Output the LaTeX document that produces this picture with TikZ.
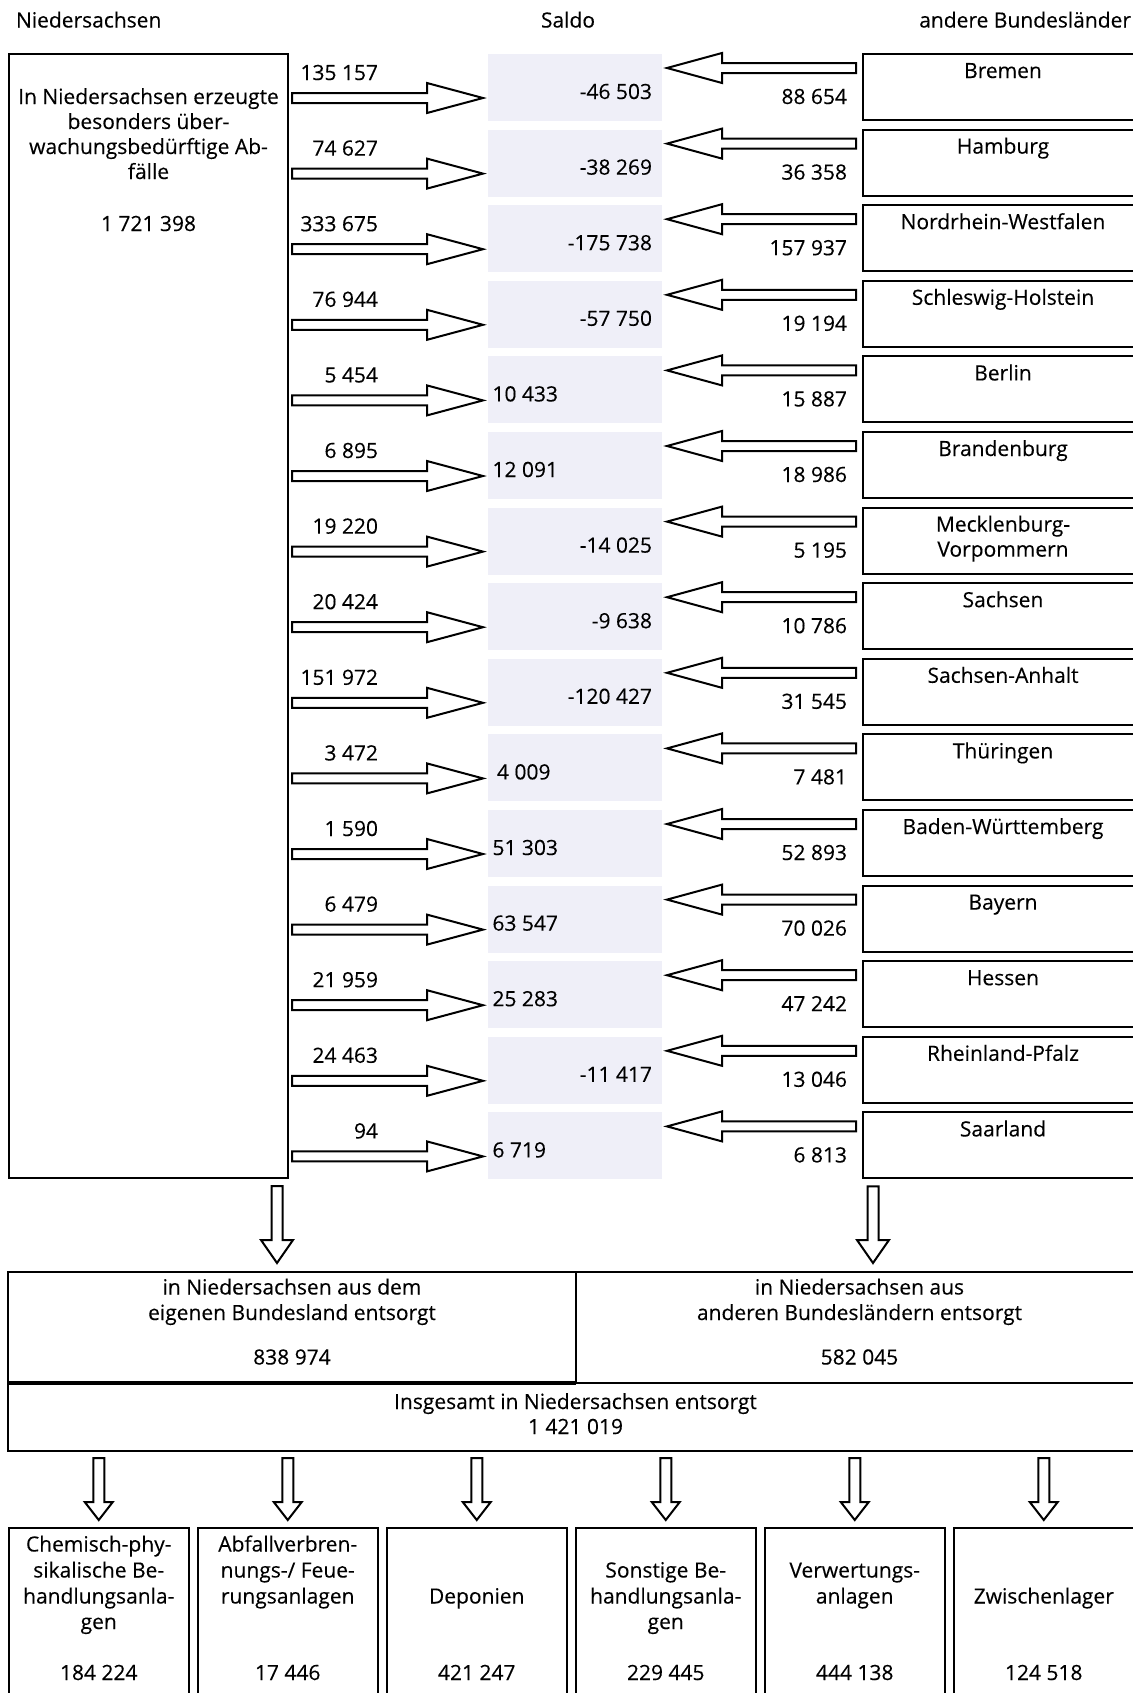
\documentclass[tikz,border=0pt]{standalone}
\usepackage{fontspec}
\setmainfont{Open Sans}[BoldFont={Open Sans}, BoldFeatures={FakeBold=0.25}]
\usetikzlibrary{calc}
\definecolor{sal}{RGB}{239,239,248}
\newcommand\fsz{\fontsize{10.5pt}{12.75pt}\selectfont\bfseries}
% block arrow from #1 (tail centre) to #2 (tip); #3 shaft half width, #4 head half width, #5 head length
\newcommand\blkarrow[5]{%
  \coordinate (hb) at ($(#2)!#5!(#1)$);
  \draw[blk] ($(#1)!#3!90:(#2)$) -- ($(hb)!#3!-90:(#1)$) -- ($(hb)!#4!-90:(#1)$) -- (#2)
     -- ($(hb)!#4!90:(#1)$) -- ($(hb)!#3!90:(#1)$) -- ($(#1)!#3!-90:(#2)$) -- cycle;}
\begin{document}
\begin{tikzpicture}[x=0.5pt,y=-0.5pt,
  every node/.style={font=\fsz, inner sep=0pt, outer sep=0pt},
  blk/.style={draw, fill=white, line width=1pt, line join=miter},
  lbox/.style={draw, line width=1pt, minimum width=139.5pt, minimum height=562pt},
  sbox/.style={fill=sal, minimum width=87pt, minimum height=33.5pt},
  rbox/.style={draw, line width=1pt, minimum width=140pt, minimum height=33pt},
  wbox/.style={draw, line width=1pt, minimum height=55.5pt},
  pbox/.style={draw, line width=1pt, minimum width=90.25pt, minimum height=91pt},
  lbl/.style={anchor=base}]
\useasboundingbox (0,0) rectangle (1133,1693);
\clip (0,0) rectangle (1133,1693);

% headers
\node[anchor=base west] (h1) at (16,27.5) {Niedersachsen};
\node[anchor=base] (h2) at (568,27.5) {Saldo};
\node[anchor=base east] (h3) at (1131,27.5) {andere Bundesländer};

% left box
\node[lbox] (L) at (148.5,616) {};
\node[lbl] (L1) at (148.5,104) {In Niedersachsen erzeugte};
\node[lbl] (L2) at (148.5,129) {besonders über-};
\node[lbl] (L3) at (148.5,154) {wachungsbedürftige Ab-};
\node[lbl] (L4) at (148.5,179) {fälle};
\node[lbl] (L5) at (148.5,231) {1 721 398};

% rows
\foreach \i/\nm/\lv/\rv/\sv/\sa/\sx in {
  0/Bremen/135 157/88 654/-46 503/base east/652,
  1/Hamburg/74 627/36 358/-38 269/base east/652,
  2/Nordrhein-Westfalen/333 675/157 937/-175 738/base east/652,
  3/Schleswig-Holstein/76 944/19 194/-57 750/base east/652,
  4/Berlin/5 454/15 887/10 433/base west/492.5,
  5/Brandenburg/6 895/18 986/12 091/base west/492.5,
  6/Mecklenburg-/19 220/5 195/-14 025/base east/652,
  7/Sachsen/20 424/10 786/-9 638/base east/652,
  8/Sachsen-Anhalt/151 972/31 545/-120 427/base east/652,
  9/Thüringen/3 472/7 481/4 009/base west/497,
  10/Baden-Württemberg/1 590/52 893/51 303/base west/492.5,
  11/Bayern/6 479/70 026/63 547/base west/492.5,
  12/Hessen/21 959/47 242/25 283/base west/492.5,
  13/Rheinland-Pfalz/24 463/13 046/-11 417/base east/652,
  14/Saarland/94/6 813/6 719/base west/492.5}{
  \pgfmathsetmacro\tp{54+75.6*\i}
  \node[sbox] (S\i) at (575,\tp+33.5) {};
  \node[rbox] (R\i) at (1003,\tp+33) {};
  \node[lbl] (Rn\i) at (1003,\tp+24) {\nm};
  \node[anchor=base east] (lv\i) at (378,\tp+26) {\lv};
  \node[anchor=base east] (rv\i) at (847,\tp+50) {\rv};
  \node[anchor=\sa] (sv\i) at (\sx,\tp+45) {\sv};
  \coordinate (a\i) at ($(L.east |- S\i.center)+(4,10.5)$);
  \coordinate (b\i) at ($(S\i.west)+(-5,10.5)$);
  \blkarrow{a\i}{b\i}{2.5pt}{7.5pt}{28pt}
  \coordinate (c\i) at ($(R\i.west)+(-7,-19)$);
  \coordinate (d\i) at ($(S\i.east |- c\i)+(5,0)$);
  \blkarrow{c\i}{d\i}{2.5pt}{7.5pt}{27.5pt}
}
\node[lbl] (Rn6b) at (1003,54+75.6*6+49) {Vorpommern};

% lower part
\node[wbox, minimum width=284pt] (A) at (292,1327.5) {};
\node[wbox, minimum width=283.5pt] (B) at (859.5,1327.5) {};
\node[draw, line width=1pt, minimum width=567.5pt, minimum height=34pt] (C) at (575.5,1417) {};
\draw[line width=1.75pt] (A.south west) -- (A.south east);

\node[lbl] (A1) at (292,1294.5) {in Niedersachsen aus dem};
\node[lbl] (A2) at (292,1320) {eigenen Bundesland entsorgt};
\node[lbl] (A3) at (292,1364.5) {838 974};
\node[lbl] (B1) at (859.5,1294.5) {in Niedersachsen aus};
\node[lbl] (B2) at (859.5,1320) {anderen Bundesländern entsorgt};
\node[lbl] (B3) at (859.5,1364.5) {582 045};
\node[lbl] (C1) at (575.5,1409) {Insgesamt in Niedersachsen entsorgt};
\node[lbl] (C2) at (575.5,1434) {1 421 019};

\coordinate (ls) at ($(L.south east)+(-11,8)$);
\coordinate (le) at ($(ls |- A.north)+(0,-9)$);
\blkarrow{ls}{le}{2.75pt}{8pt}{11.5pt}
\coordinate (rs) at ($(R14.south west)+(10,8)$);
\coordinate (re) at ($(rs |- B.north)+(0,-9)$);
\blkarrow{rs}{re}{2.75pt}{8pt}{11.5pt}

% bottom boxes
\foreach \k in {0,...,5}{
  \node[pbox] (P\k) at (98.75+189*\k,1619) {};
  \coordinate (ps\k) at ($(P\k.north |- C.south)+(0,7)$);
  \coordinate (pe\k) at ($(P\k.north)+(0,-8)$);
  \blkarrow{ps\k}{pe\k}{2.75pt}{7pt}{9pt}
}
\node[lbl] (P0a) at (98.75,1551.5) {Chemisch-phy-};
\node[lbl] (P0b) at (98.75,1577.5) {sikalische Be-};
\node[lbl] (P0c) at (98.75,1603.5) {handlungsanla-};
\node[lbl] (P0d) at (98.75,1629) {gen};
\node[lbl] (P0n) at (98.75,1680) {184 224};
\node[lbl] (P1a) at (287.75,1551.5) {Abfallverbren-};
\node[lbl] (P1b) at (287.75,1577.5) {nungs-/ Feue-};
\node[lbl] (P1c) at (287.75,1603.5) {rungsanlagen};
\node[lbl] (P1n) at (287.75,1680) {17 446};
\node[lbl] (P2c) at (476.75,1603.5) {Deponien};
\node[lbl] (P2n) at (476.75,1680) {421 247};
\node[lbl] (P3b) at (665.75,1577.5) {Sonstige Be-};
\node[lbl] (P3c) at (665.75,1603.5) {handlungsanla-};
\node[lbl] (P3d) at (665.75,1629) {gen};
\node[lbl] (P3n) at (665.75,1680) {229 445};
\node[lbl] (P4b) at (854.75,1577.5) {Verwertungs-};
\node[lbl] (P4c) at (854.75,1603.5) {anlagen};
\node[lbl] (P4n) at (854.75,1680) {444 138};
\node[lbl] (P5c) at (1043.75,1603.5) {Zwischenlager};
\node[lbl] (P5n) at (1043.75,1680) {124 518};
\end{tikzpicture}
\end{document}
